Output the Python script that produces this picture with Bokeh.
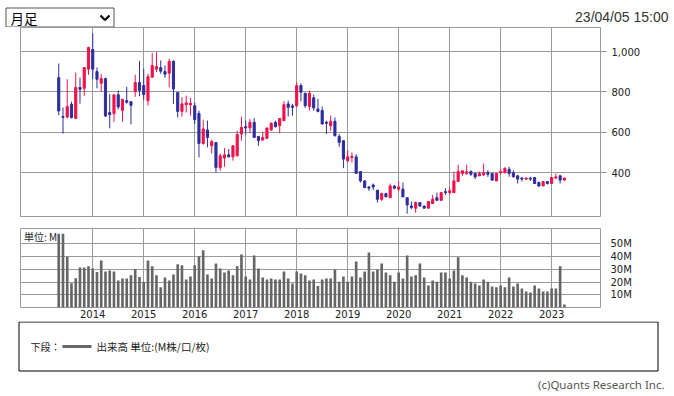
from bokeh.plotting import figure
from bokeh.layouts import column
from bokeh.models import FixedTicker, NumeralTickFormatter, Label, ColumnDataSource
from bokeh.embed import file_html
from bokeh.resources import INLINE
from bokeh.core.properties import value

# ---- data: monthly candles May 2013 .. Apr 2023 (index 0..119) ----
opens = [871, 678, 676, 739, 669, 822, 818, 913, 1010, 901, 843, 866, 698, 693, 786, 709, 757, 752, 802, 847,
         832, 757, 873, 913, 920, 901, 893, 952, 798, 704, 737, 736, 732, 694, 545, 612, 534, 550, 426, 473,
         489, 479, 484, 592, 628, 622, 650, 580, 562, 570, 612, 650, 633, 658, 741, 731, 732, 832, 794, 728,
         771, 716, 708, 650, 633, 655, 580, 559, 460, 476, 479, 406, 360, 330, 340, 314, 269, 297, 277, 335,
         319, 319, 277, 236, 225, 253, 236, 225, 248, 277, 264, 307, 302, 302, 357, 397, 397, 406, 397, 385,
         390, 401, 397, 360, 401, 401, 418, 401, 385, 374, 369, 374, 377, 352, 335, 357, 347, 374, 385, 364]
highs = [941, 723, 863, 752, 896, 871, 921, 1024, 1090, 921, 888, 871, 789, 786, 808, 764, 825, 752, 885, 954,
         915, 890, 992, 997, 956, 931, 964, 956, 798, 774, 782, 771, 749, 708, 663, 658, 564, 550, 496, 523,
         518, 534, 608, 678, 658, 667, 671, 580, 603, 622, 650, 658, 669, 754, 757, 741, 848, 843, 794, 807,
         787, 766, 728, 658, 683, 674, 592, 559, 513, 501, 493, 406, 364, 335, 347, 314, 302, 302, 347, 340,
         360, 352, 277, 258, 258, 253, 236, 258, 291, 302, 302, 324, 327, 406, 440, 413, 440, 413, 401, 406,
         446, 413, 397, 397, 418, 426, 430, 413, 390, 380, 377, 380, 377, 357, 357, 357, 377, 397, 390, 377]
lows = [686, 594, 669, 669, 669, 742, 781, 885, 863, 818, 802, 676, 620, 653, 714, 653, 742, 640, 776, 779,
        761, 733, 873, 898, 890, 870, 823, 741, 674, 678, 699, 683, 642, 476, 539, 526, 496, 401, 410, 430,
        476, 460, 484, 559, 589, 595, 575, 534, 559, 570, 608, 625, 595, 658, 678, 683, 724, 754, 721, 708,
        708, 699, 638, 592, 608, 579, 529, 423, 451, 451, 397, 352, 324, 311, 314, 253, 261, 281, 277, 319,
        311, 281, 198, 220, 203, 231, 225, 225, 248, 261, 261, 291, 294, 302, 357, 385, 390, 385, 369, 385,
        385, 380, 360, 360, 393, 397, 380, 377, 347, 357, 364, 360, 347, 330, 335, 342, 347, 369, 347, 360]
closes = [706, 674, 728, 673, 822, 813, 921, 1020, 913, 863, 866, 681, 688, 786, 726, 764, 749, 734, 847, 808,
          787, 876, 931, 926, 903, 888, 951, 815, 704, 741, 746, 744, 663, 545, 617, 575, 555, 426, 484, 489,
          479, 534, 589, 625, 622, 650, 575, 559, 575, 622, 645, 628, 669, 737, 724, 724, 832, 799, 732, 794,
          721, 704, 642, 645, 655, 584, 550, 468, 479, 481, 397, 360, 327, 324, 330, 269, 297, 281, 335, 324,
          330, 281, 241, 228, 253, 236, 225, 258, 270, 264, 302, 302, 311, 360, 406, 410, 405, 393, 380, 397,
          401, 393, 364, 397, 406, 423, 397, 380, 369, 369, 374, 369, 347, 335, 357, 347, 377, 380, 364, 374]
volumes = [58, 58, 40, 19, 23, 31.5, 31.5, 32.4, 30.8, 27.9, 37, 28.4, 29.2, 28.4, 21.3, 22.9, 22.9, 25.3, 30.3, 24,
           20, 37, 32.4, 25.3, 16, 23.7, 21.3, 26, 34, 33.2, 22.1, 24.5, 33.2, 40.3, 45, 26, 22.9, 34.7, 30.8, 27.6,
           29.2, 25.3, 32.4, 41.8, 24.5, 22.1, 41, 30.8, 23.7, 22.1, 22.9, 22.1, 22.1, 28.4, 22.9, 18.9, 28.4, 26.8, 25.3, 21.3,
           22.1, 17, 22.1, 22.9, 22.9, 30, 20.3, 24.5, 20.3, 24.5, 36.3, 23.7, 28.4, 43.4, 28.4, 30, 34.7, 27.6, 25.3, 20.3,
           27.6, 22.9, 41, 24.5, 25.3, 34.7, 23.7, 17.4, 21.3, 20.3, 27.6, 27.6, 22.9, 29.2, 39.5, 25.3, 23.7, 20.3, 18.9, 17.4,
           22.1, 20.3, 16.6, 16, 17.4, 16, 23.7, 16.6, 18.9, 15, 12.6, 11.8, 17.4, 15, 12.6, 12.6, 15, 15, 32.4, 2.4]
months = list(range(len(opens)))
year_ticks = [8, 20, 32, 44, 56, 68, 80, 92, 104, 116]
year_labels = ["2014", "2015", "2016", "2017", "2018", "2019", "2020", "2021", "2022", "2023"]
price_ticks = [400, 600, 800, 1000]
vol_ticks = [10, 20, 30, 40, 50]
vol_labels = ["10M", "20M", "30M", "40M", "50M"]

UP = "#f0124a"
DOWN = "#2e2e9e"
GRID = "#9a9a9a"
TICKFONT = "DejaVu Sans"
JP = "Noto Sans CJK JP"
W = 672
LB = 20          # left border of chart frames
RB = W - 600     # right border of chart frames

# ---- header ----
HH = 27
header = figure(width=W, height=HH, x_range=(0, W), y_range=(HH, 0), min_border=0,
                x_axis_type=None, y_axis_type=None, toolbar_location=None,
                output_backend="svg", outline_line_color=None)
header.quad(left=[5.5], right=[113.5], top=[7.5], bottom=[26.5], fill_color="white", line_color="#555555")
header.text(x=[10], y=[17.5], text=["月足"], text_font=value(JP), text_font_size="13.5px",
            text_baseline="middle", text_color="black")
header.line(x=[100, 104.5, 109], y=[15, 19.5, 15], line_width=2.2, color="black")
header.text(x=[668], y=[16], text=["23/04/05 15:00"], text_align="right", text_baseline="middle",
            text_font=value("Liberation Sans"), text_font_size="14px", text_color="#333333")

# ---- price chart ----
p = figure(width=W, height=190, x_range=(-9.0, 127.5), y_range=(179, 1119),
           y_axis_location="right", min_border_left=LB, min_border_right=RB,
           min_border_top=0, min_border_bottom=0, toolbar_location=None, output_backend="svg")
p.xaxis.visible = False
p.xaxis.ticker = FixedTicker(ticks=year_ticks)
p.xgrid.ticker = FixedTicker(ticks=year_ticks)
p.ygrid.ticker = FixedTicker(ticks=price_ticks)
p.yaxis.ticker = FixedTicker(ticks=price_ticks)
p.yaxis.formatter = NumeralTickFormatter(format="0,0")
p.yaxis.major_tick_out = 6
p.yaxis.major_tick_in = 0
p.yaxis.minor_tick_out = 0
p.yaxis.minor_tick_in = 0
p.yaxis.axis_line_color = None
p.yaxis.major_tick_line_color = GRID
p.yaxis.major_label_standoff = 5
p.yaxis.major_label_text_font = TICKFONT
p.yaxis.major_label_text_font_size = "10px"
p.yaxis.major_label_text_color = "#222222"
p.grid.grid_line_color = GRID
p.outline_line_color = GRID
p.outline_line_alpha = 1.0

src = ColumnDataSource(dict(
    x=months, o=opens, h=highs, l=lows, c=closes,
    top=[max(a, b) for a, b in zip(opens, closes)],
    bottom=[min(a, b) for a, b in zip(opens, closes)],
    color=[UP if c >= o else DOWN for o, c in zip(opens, closes)],
))
p.segment(x0="x", y0="h", x1="x", y1="l", line_color="color", line_width=1, source=src)
p.vbar(x="x", top="top", bottom="bottom", width=0.5, fill_color="color", line_color="color",
       line_width=1, source=src)

# ---- volume chart ----
v = figure(width=W, height=104, x_range=p.x_range, y_range=(0, 62.2),
           y_axis_location="right", min_border_left=LB, min_border_right=RB,
           min_border_top=11, min_border_bottom=14, toolbar_location=None, output_backend="svg")
v.xaxis.ticker = FixedTicker(ticks=year_ticks)
v.xaxis.major_label_overrides = {t: s for t, s in zip(year_ticks, year_labels)}
v.xgrid.ticker = FixedTicker(ticks=year_ticks)
v.ygrid.ticker = FixedTicker(ticks=vol_ticks)
v.yaxis.ticker = FixedTicker(ticks=vol_ticks)
v.yaxis.major_label_overrides = {t: s for t, s in zip(vol_ticks, vol_labels)}
for ax in (v.xaxis, v.yaxis):
    ax.axis_line_color = None
    ax.major_tick_out = 0
    ax.major_tick_in = 0
    ax.minor_tick_out = 0
    ax.minor_tick_in = 0
    ax.major_label_text_font = TICKFONT
    ax.major_label_text_font_size = "10px"
    ax.major_label_text_color = "#222222"
v.xaxis.major_label_standoff = 2
v.yaxis.major_label_standoff = 10
v.grid.grid_line_color = GRID
v.outline_line_color = GRID
v.outline_line_alpha = 1.0
v.vbar(x=months, top=volumes, width=0.62, fill_color="#666666", line_color=None)
v.add_layout(Label(x=-8.2, y=55.8, text="単位: M", text_font=JP, text_font_size="10px",
                   text_baseline="middle", text_color="#222222"))

# ---- legend box and credit ----
H = 72
lg = figure(width=W, height=H, x_range=(0, W), y_range=(H, 0), min_border=0,
            x_axis_type=None, y_axis_type=None, toolbar_location=None,
            output_backend="svg", outline_line_color=None)
lg.quad(left=[18.5], right=[657.5], top=[0.5], bottom=[49.5], fill_color=None, line_color="black")
lg.text(x=[30], y=[25], text=["下段："], text_font=value(JP), text_font_size="10px",
        text_baseline="middle", text_color="#222222")
lg.line(x=[62, 91], y=[25, 25], line_width=3, color="#666666")
lg.text(x=[96], y=[25], text=["出来高 単位:(M株/口/枚)"], text_font=value(JP), text_font_size="10.5px",
        text_baseline="middle", text_color="#222222")
lg.text(x=[664], y=[63], text=["(c)Quants Research Inc."], text_align="right", text_baseline="middle",
        text_font=value("Noto Sans"), text_font_size="11.5px", text_color="#555555")

layout = column(header, column(p, v, spacing=0), lg, spacing=0)
open("out.html", "w").write(file_html(layout, INLINE))
